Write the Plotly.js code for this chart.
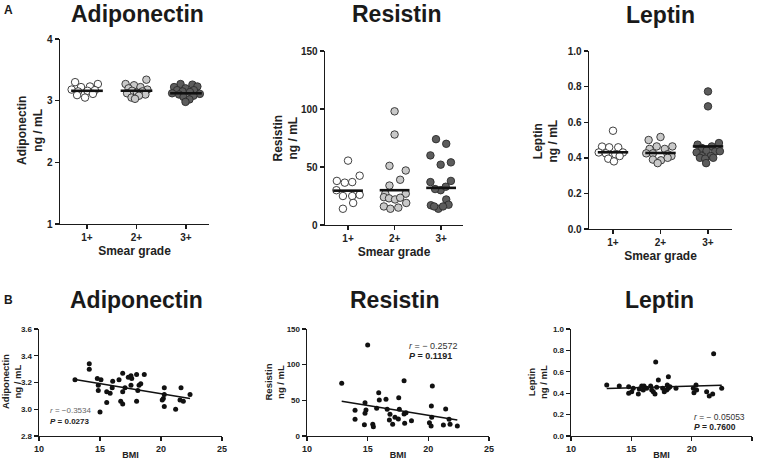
<!DOCTYPE html>
<html>
<head>
<meta charset="utf-8">
<script src="https://cdn.plot.ly/plotly-3.0.1.min.js"></script>
<style>
  html, body { margin: 0; padding: 0; background: #fff; }
  #grafico { width: 757px; height: 460px; }
</style>
</head>
<body>
<div id="grafico"></div>
<script>
// Grados de baciloscopia (eje X de la fila A)
const grupos = ['1+', '2+', '3+'];

// Fila A: valores por grupo y su desplazamiento horizontal dentro del grupo
const adipo1 = [3.30, 3.22, 3.23, 3.27, 3.18, 3.15, 3.16, 3.17, 3.05, 3.09, 3.11];
const adipo1Desp = [-0.24, -0.12, 0.06, 0.22, -0.31, -0.18, 0.01, 0.16, -0.04, -0.2, 0.12];
const adipo2 = [3.34, 3.27, 3.25, 3.22, 3.20, 3.18, 3.16, 3.15, 3.13, 3.12, 3.10, 3.08, 3.05, 3.03];
const adipo2Desp = [0.2, -0.22, -0.05, 0.08, -0.16, 0.22, -0.09, 0.12, 0.01, -0.19, 0.18, 0.05, -0.1, -0.03];
const adipo3 = [3.27, 3.26, 3.22, 3.23, 3.20, 3.17, 3.17, 3.15, 3.14, 3.12, 3.11, 3.10, 3.08, 3.06, 3.02, 2.98];
const adipo3Desp = [-0.11, 0.13, -0.24, 0.23, -0.01, -0.18, 0.16, -0.07, 0.08, -0.28, 0.28, -0.14, 0.15, -0.05, 0.07, -0.01];
const adipoMediana = [3.16, 3.16, 3.12];

const resis1 = [55.5, 38, 36.5, 37, 42.5, 30, 25, 25, 26, 19, 14];
const resis1Desp = [0, -0.24, -0.07, 0.09, 0.25, -0.25, -0.11, 0.09, 0.25, 0.11, -0.11];
const resis2 = [98, 78, 51, 47, 39, 34, 27, 27, 24, 23, 22, 23.5, 19, 16, 14, 15];
const resis2Desp = [0, 0, -0.11, 0.24, 0.12, -0.11, 0.24, -0.2, -0.23, -0.12, 0.01, 0.12, 0.25, -0.23, -0.09, 0.08];
const resis3 = [74, 70, 60, 54, 52, 37, 38, 30, 33, 31, 22, 17, 17.5, 14, 16, 16];
const resis3Desp = [-0.11, 0.11, -0.23, 0.21, -0.01, -0.23, 0.21, -0.01, 0.1, -0.13, 0.11, -0.22, 0.16, -0.06, 0.04, -0.15];
const resisMediana = [29.6, 30, 32];

const lep1 = [0.552, 0.463, 0.459, 0.459, 0.43, 0.43, 0.425, 0.42, 0.395, 0.38, 0.41];
const lep1Desp = [0, -0.23, -0.08, 0.11, -0.3, 0.21, -0.15, 0.05, -0.1, 0.02, 0.14];
const lep2 = [0.517, 0.50, 0.464, 0.464, 0.45, 0.45, 0.425, 0.425, 0.42, 0.41, 0.39, 0.386, 0.40, 0.37];
const lep2Desp = [0, -0.25, -0.08, 0.25, -0.23, 0.09, -0.3, -0.16, 0.15, 0.23, -0.16, 0.01, 0.15, -0.06];
const lep3 = [0.773, 0.689, 0.474, 0.483, 0.464, 0.455, 0.44, 0.435, 0.437, 0.43, 0.41, 0.41, 0.40, 0.395, 0.40, 0.37];
const lep3Desp = [0, 0, -0.22, 0.23, 0.08, -0.13, -0.03, 0.15, 0.25, -0.24, -0.13, 0.06, -0.17, -0.06, 0.11, -0.04];
const lepMediana = [0.431, 0.427, 0.464];

// Fila B: IMC contra cada adipocina
const imcAdipo = [12.95, 14.12, 14.12, 14.78, 15.08, 14.86, 14.86, 15.55, 15.83, 15.55, 15.0, 16.04, 16.0, 16.56, 16.86, 16.86, 16.7, 16.86, 17.05, 17.32, 17.54, 17.6, 17.54, 18.0, 18.63, 18.2, 18.34, 18.1, 18.0, 20.27, 20.27, 20.19, 20.1, 20.27, 21.2, 21.64, 21.56, 21.83, 22.38];
const adipoB = [3.22, 3.34, 3.30, 3.23, 3.22, 3.18, 3.14, 3.13, 3.12, 3.05, 2.98, 3.21, 3.16, 3.22, 3.27, 3.13, 3.06, 3.04, 3.16, 3.24, 3.25, 3.23, 3.18, 3.26, 3.26, 3.18, 3.19, 3.14, 3.06, 3.16, 3.11, 3.08, 3.07, 3.02, 3.00, 3.16, 3.07, 3.06, 3.11];

const imcResis = [12.86, 15.0, 15.91, 15.96, 16.51, 17.56, 18.0, 20.33, 20.25, 21.43, 14.78, 13.96, 13.96, 14.86, 14.78, 14.73, 15.42, 15.47, 15.74, 16.61, 16.84, 16.79, 17.06, 17.25, 17.53, 17.61, 18.0, 18.16, 18.05, 18.61, 20.09, 20.23, 20.28, 21.24, 21.71, 21.79, 22.39];
const resisB = [73.9, 127.6, 60.7, 50.5, 51.4, 53.7, 77.6, 70.1, 42.1, 37.9, 46.7, 36.0, 23.4, 36.4, 31.8, 15.9, 16.4, 13.1, 38.8, 37.4, 30.4, 22.4, 16.4, 26.2, 23.8, 37.4, 30.8, 32.7, 17.8, 21.5, 18.6, 14.0, 26.2, 15.4, 23.4, 16.4, 14.0];

const imcLep = [12.96, 14.0, 14.78, 14.78, 15.03, 15.16, 15.58, 15.66, 15.86, 16.05, 15.99, 16.27, 16.6, 16.69, 16.82, 16.96, 17.24, 17.1, 17.6, 17.73, 17.93, 18.07, 17.98, 18.07, 18.2, 18.7, 20.14, 20.19, 20.36, 20.41, 21.24, 21.46, 21.74, 22.49, 17.02, 21.82];
const lepB = [0.477, 0.467, 0.461, 0.399, 0.414, 0.446, 0.393, 0.439, 0.467, 0.467, 0.43, 0.446, 0.467, 0.43, 0.414, 0.393, 0.523, 0.455, 0.446, 0.414, 0.43, 0.554, 0.477, 0.446, 0.461, 0.446, 0.446, 0.405, 0.477, 0.43, 0.414, 0.374, 0.393, 0.446, 0.692, 0.769];

// Textos de ejes y de correlación
const titulosY = ['Adiponectin<br>ng / mL', 'Resistin<br>ng / mL', 'Leptin<br>ng / mL'];
const estadR = ['r = \u22120.3534', 'r = \u2212 0.2572', 'r = \u2212 0.05053'];
const estadP = ['P = 0.0273', 'P = 0.1191', 'P = 0.7600'];

const colores = ['#ffffff', '#c9c9c9', '#5c5c5c'];
const fuente = 'Liberation Sans, Arial, sans-serif';
const W = 757, H = 460;

// pixeles -> fracción del papel
const px = x => x / W;
const py = y => 1 - y / H;

const traces = [];

// Dot plot de una fila A: puntos desplazados + línea de mediana
function puntosGrupos(valores, desplazamientos, medianas, n) {
    const xa = 'x' + (n === 1 ? '' : n);
    const ya = 'y' + (n === 1 ? '' : n);
    valores.forEach((vals, g) => {
        traces.push({
            x: vals.map((v, i) => g + desplazamientos[g][i]),
            y: vals,
            mode: 'markers',
            type: 'scatter',
            xaxis: xa, yaxis: ya,
            marker: { size: 7.5, color: colores[g], line: { color: '#2b2b2b', width: 0.9 } },
            hoverinfo: 'y'
        });
    });
    const lx = [], ly = [];
    medianas.forEach((m, g) => {
        lx.push(g - 0.32, g + 0.32, null);
        ly.push(m, m, null);
    });
    traces.push({
        x: lx, y: ly, mode: 'lines', type: 'scatter',
        xaxis: xa, yaxis: ya,
        line: { color: '#111', width: 2.6 },
        hoverinfo: 'skip'
    });
}

// Dispersión de la fila B con regresión lineal calculada
function dispersion(xData, yData, n) {
    const xa = 'x' + n, ya = 'y' + n;
    traces.push({
        x: xData, y: yData, mode: 'markers', type: 'scatter',
        xaxis: xa, yaxis: ya,
        marker: { size: 5, color: '#111' }
    });
    const k = xData.length;
    const xMean = xData.reduce((a, b) => a + b, 0) / k;
    const yMean = yData.reduce((a, b) => a + b, 0) / k;
    let num = 0, den = 0;
    for (let i = 0; i < k; i++) {
        num += (xData[i] - xMean) * (yData[i] - yMean);
        den += (xData[i] - xMean) ** 2;
    }
    const m = num / den;
    const b = yMean - m * xMean;
    const xLine = [Math.min(...xData), Math.max(...xData)];
    traces.push({
        x: xLine, y: xLine.map(x => m * x + b), mode: 'lines', type: 'scatter',
        xaxis: xa, yaxis: ya,
        line: { color: '#111', width: 1.6 },
        hoverinfo: 'skip'
    });
}

puntosGrupos([adipo1, adipo2, adipo3], [adipo1Desp, adipo2Desp, adipo3Desp], adipoMediana, 1);
puntosGrupos([resis1, resis2, resis3], [resis1Desp, resis2Desp, resis3Desp], resisMediana, 2);
puntosGrupos([lep1, lep2, lep3], [lep1Desp, lep2Desp, lep3Desp], lepMediana, 3);
dispersion(imcAdipo, adipoB, 4);
dispersion(imcResis, resisB, 5);
dispersion(imcLep, lepB, 6);

function eje(extra) {
    return Object.assign({
        showline: true, linecolor: '#1a1a1a', linewidth: 1.4,
        ticks: 'outside', ticklen: 4, tickwidth: 1.4, tickcolor: '#1a1a1a',
        showgrid: false, zeroline: false, fixedrange: true,
        tickfont: { family: fuente, size: 10, color: '#222', weight: 'bold' }
    }, extra);
}

function ejeGrupos(x0, x1, rango, ancla) {
    return eje({
        domain: [px(x0), px(x1)], range: rango, anchor: ancla,
        tickvals: [0, 1, 2], ticktext: grupos,
        title: { text: 'Smear grade', standoff: 4, font: { family: fuente, size: 12, color: '#222', weight: 'bold' } }
    });
}

function ejeY(y0, y1, rango, dtick, fmt, ancla, tam) {
    return eje({
        domain: [py(y1), py(y0)], range: rango, dtick: dtick, tickformat: fmt, anchor: ancla,
        tickfont: { family: fuente, size: tam, color: '#222', weight: 'bold' }
    });
}

function ejeIMC(x0, x1, ancla) {
    return eje({
        domain: [px(x0), px(x1)], range: [10, 25], dtick: 5, anchor: ancla,
        tickfont: { family: fuente, size: 9, color: '#222', weight: 'bold' },
        title: { text: 'BMI', standoff: 3, font: { family: fuente, size: 9, color: '#222', weight: 'bold' } }
    });
}

const layout = {
    width: W, height: H,
    margin: { l: 0, r: 0, t: 0, b: 0 },
    paper_bgcolor: '#fff', plot_bgcolor: 'rgba(0,0,0,0)',
    showlegend: false,
    font: { family: fuente, color: '#222' },
    xaxis: ejeGrupos(60, 209, [-0.545, 2.465], 'y'),
    yaxis: ejeY(39, 224, [1, 4], 1, '', 'x', 10),
    xaxis2: ejeGrupos(325, 463, [-0.495, 2.47], 'y2'),
    yaxis2: ejeY(51, 225, [0, 150], 50, '', 'x2', 10),
    xaxis3: ejeGrupos(589, 732, [-0.505, 2.505], 'y3'),
    yaxis3: ejeY(51, 229, [0, 1], 0.2, '.1f', 'x3', 10),
    xaxis4: ejeIMC(39, 222, 'y4'),
    yaxis4: ejeY(329, 436, [2.8, 3.6], 0.2, '.1f', 'x4', 8),
    xaxis5: ejeIMC(307, 489, 'y5'),
    yaxis5: ejeY(329, 436, [0, 150], 50, '', 'x5', 8),
    xaxis6: ejeIMC(571, 752, 'y6'),
    yaxis6: ejeY(329, 436, [0, 1], 0.2, '.1f', 'x6', 8),
    annotations: []
};

// Títulos de los ejes Y (dos líneas, girados)
const posTituloY = [[30, 131, 12], [285.5, 138, 12], [545.5, 141, 12], [11, 382, 9.5], [273.5, 382, 9.5], [537, 382, 9.5]];
posTituloY.forEach((p, i) => layout.annotations.push({
    text: titulosY[i % 3], x: px(p[0]), y: py(p[1]), xref: 'paper', yref: 'paper',
    xanchor: 'center', yanchor: 'middle', showarrow: false, textangle: -90,
    font: { family: fuente, size: p[2], color: '#222', weight: 'bold' }
}));

// Títulos de cada panel y letras A / B
const titulos = [
    ['Adiponectin', 137, 14], ['Resistin', 396, 14], ['Leptin', 660, 15],
    ['Adiponectin', 136, 300], ['Resistin', 394, 300], ['Leptin', 659, 300]
];
titulos.forEach(t => layout.annotations.push({
    text: t[0], x: px(t[1]), y: py(t[2]), xref: 'paper', yref: 'paper',
    xanchor: 'center', yanchor: 'middle', showarrow: false,
    font: { family: fuente, size: 23, color: '#1a1a1a', weight: 'bold' }
}));
[['A', 8, 10], ['B', 8, 300]].forEach(t => layout.annotations.push({
    text: t[0], x: px(t[1]), y: py(t[2]), xref: 'paper', yref: 'paper',
    xanchor: 'center', yanchor: 'middle', showarrow: false,
    font: { family: fuente, size: 12, color: '#1a1a1a', weight: 'bold' }
}));

// r y P en la fila B
const posEstad = [[48, 410, 421, 8], [407, 346, 356, 9], [692, 417, 427, 8.5]];
posEstad.forEach((p, i) => {
    layout.annotations.push({
        text: '<i>r</i>' + estadR[i].slice(1), x: px(p[0]), y: py(p[1]), xref: 'paper', yref: 'paper',
        xanchor: 'left', yanchor: 'middle', showarrow: false,
        font: { family: fuente, size: p[3], color: i === 0 ? '#666' : '#333' }
    });
    layout.annotations.push({
        text: '<i>P</i>' + estadP[i].slice(1), x: px(p[0]), y: py(p[2]), xref: 'paper', yref: 'paper',
        xanchor: 'left', yanchor: 'middle', showarrow: false,
        font: { family: fuente, size: p[3], color: '#222', weight: 'bold' }
    });
});

Plotly.newPlot('grafico', traces, layout, { displayModeBar: false, staticPlot: true });
</script>
</body>
</html>
